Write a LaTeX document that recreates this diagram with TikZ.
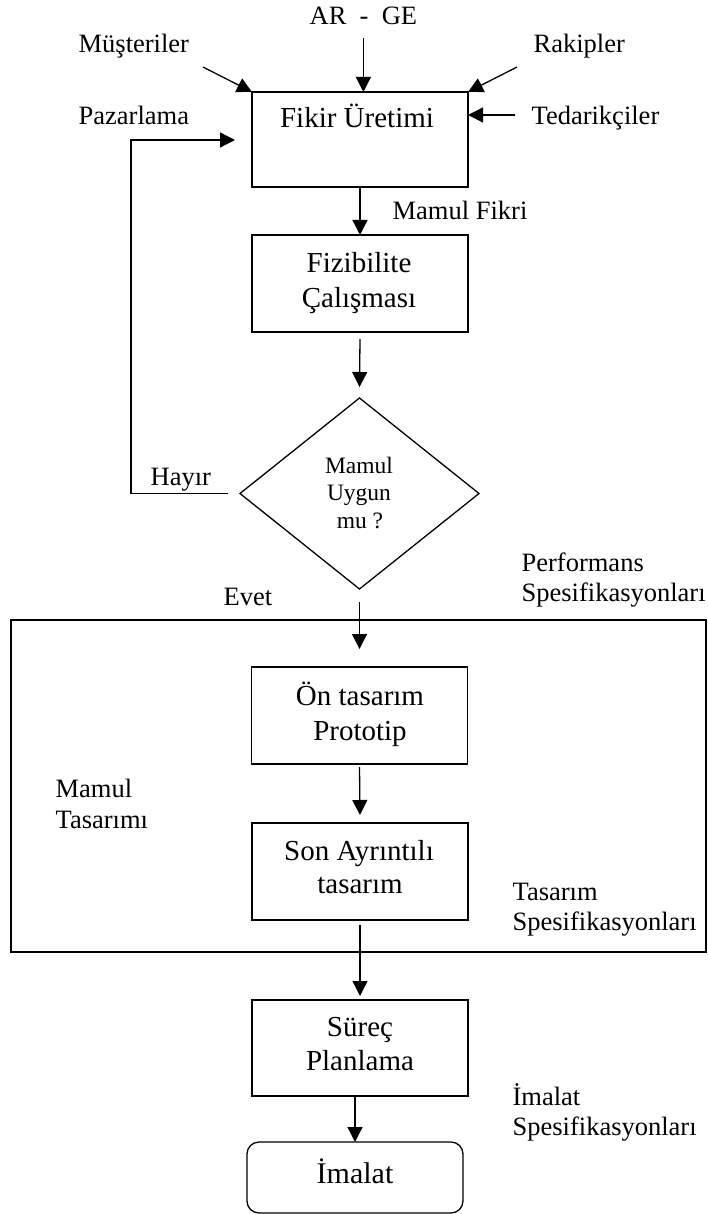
\documentclass[tikz,border=0pt]{standalone}
\usepackage{fontspec}
\setmainfont{Liberation Serif}
\usetikzlibrary{arrows.meta,shapes.geometric,calc}
\begin{document}
\begin{tikzpicture}[x=1pt,y=-1pt,
  line width=1.3pt,
  box/.style={draw, rectangle, minimum width=216pt, inner sep=0pt, outer sep=0pt},
  arr/.style={-{Triangle[length=15pt,width=15pt]}},
  lbl/.style={anchor=base west, inner sep=0pt, font=\fontsize{26.5}{30}\selectfont},
  btxt/.style={anchor=base, inner sep=0pt, font=\fontsize{29}{34}\selectfont},
  dtxt/.style={anchor=base, inner sep=0pt, font=\fontsize{23.5}{27.5}\selectfont}]
\useasboundingbox (0,0) rectangle (707,1214);

% frame around the product design stage
\node[draw, minimum width=695pt, minimum height=332pt, inner sep=0pt, outer sep=0pt] (design) at (358.5,786) {};

% process boxes
\node[box, minimum height=95pt] (fikir) at (360,139.5) {};
\node[box, minimum height=97pt] (fiz) at (360,283.5) {};
\node[draw, diamond, minimum width=239pt, minimum height=191pt, inner sep=0pt, outer sep=0pt] (dia) at (359.5,493.5) {};
\node[box, minimum height=97pt] (on) at (359.5,715.5) {};
\node[box, minimum height=97pt] (son) at (360,871.5) {};
\node[box, minimum height=96pt] (surec) at (360,1048) {};
\node[box, minimum height=71pt, rounded corners=12pt] (imalat) at (355,1177.5) {};

% texts inside the shapes
\node[btxt] (fikirT) at (357,128) {Fikir Üretimi};
\node[btxt] (fizT1) at (359,273) {Fizibilite};
\node[btxt] (fizT2) at (359,307) {Çalışması};
\node[dtxt] (diaT1) at (359,473) {Mamul};
\node[dtxt] (diaT2) at (359,500) {Uygun};
\node[dtxt] (diaT3) at (360,528) {mu ?};
\node[btxt] (onT1) at (360,705) {Ön tasarım};
\node[btxt] (onT2) at (360,740) {Prototip};
\node[btxt] (sonT1) at (359,860) {Son Ayrıntılı};
\node[btxt] (sonT2) at (360,893) {tasarım};
\node[btxt] (surecT1) at (360,1036) {Süreç};
\node[btxt] (surecT2) at (360,1070) {Planlama};
\node[btxt, font=\fontsize{30}{34}\selectfont] (imalatT) at (355,1183) {İmalat};

% labels
\node[lbl] (arge) at (309,25) {AR\ \ -\ \ GE};
\node[lbl] (mus) at (78,53) {Müşteriler};
\node[lbl] (rak) at (533,53) {Rakipler};
\node[lbl] (paz) at (78,125) {Pazarlama};
\node[lbl] (ted) at (531,125) {Tedarikçiler};
\node[lbl] (mfikri) at (392,220) {Mamul Fikri};
\node[lbl] (hayir) at (150,485) {Hayır};
\node[lbl] (evet) at (223,605) {Evet};
\node[lbl] (perf1) at (521,571) {Performans};
\node[lbl] (perf2) at (521,601) {Spesifikasyonları};
\node[lbl] (mt1) at (55,797) {Mamul};
\node[lbl] (mt2) at (55,828) {Tasarımı};
\node[lbl] (tas1) at (512,900) {Tasarım};
\node[lbl] (tas2) at (512,930) {Spesifikasyonları};
\node[lbl] (ims1) at (512,1105) {İmalat};
\node[lbl] (ims2) at (512,1135) {Spesifikasyonları};

% free ends of the input arrows
\coordinate (musTail) at (203,67);
\coordinate (rakTail) at (517,67);
\coordinate (tedTail) at (515,115);
\coordinate (loopTop) at (131,140);

% inputs to idea generation
\draw[arr] ([yshift=-12pt]arge.south) -- (arge.south |- fikir.north);
\draw[arr] (musTail) -- (fikir.north west);
\draw[arr] (rakTail) -- (fikir.north east);
\draw[arr] (tedTail) -- (tedTail -| fikir.east);

% rejection loop back to idea generation
\draw[arr] ([xshift=-12pt]dia.west) -| (loopTop) -- ($(loopTop -| fikir.west)+(-17,0)$);

% main flow
\draw[arr] (fikir.south) -- (fiz.north);
\draw[arr] ([yshift=-7pt]fiz.south) -- ([yshift=11pt]dia.north);
\draw[arr] ([yshift=-13pt]dia.south) -- ([yshift=18pt]on.north);
\draw[arr] ([yshift=-3pt]on.south) -- ([yshift=8pt]son.north);
\draw[arr] ([yshift=-5pt]son.south) -- ([yshift=4pt]surec.north);
\draw[arr] (imalat.north |- surec.south) -- (imalat.north);
\end{tikzpicture}
\end{document}
